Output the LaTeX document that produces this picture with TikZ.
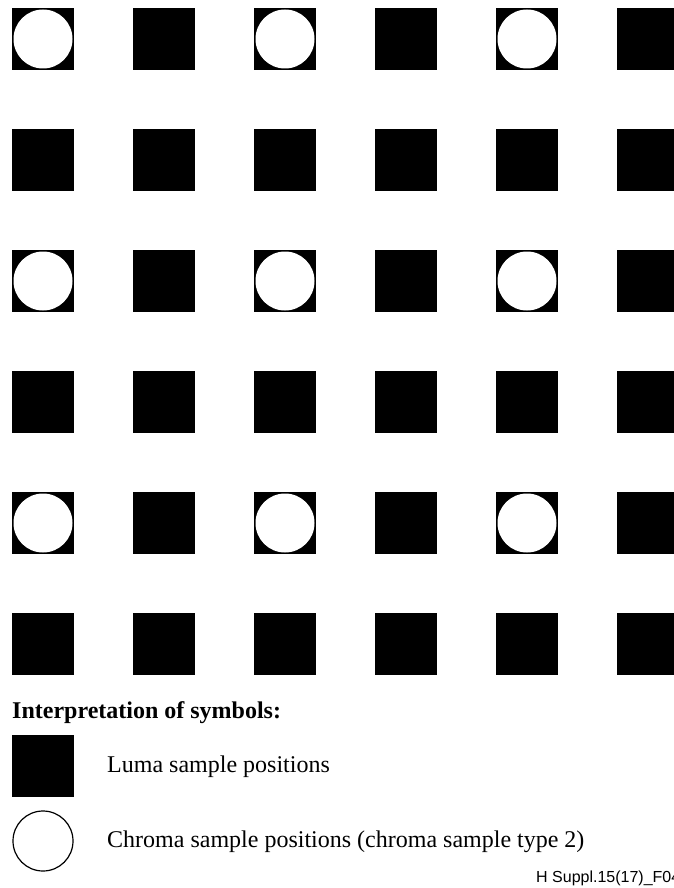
\documentclass[tikz,border=0pt]{standalone}
\usepackage{fontspec}
\setmainfont{Liberation Serif}
\newfontfamily\footfont{Liberation Sans}
\usetikzlibrary{positioning}

\begin{document}
\begin{tikzpicture}[x=1pt, y=-1pt,
    luma/.style={fill=black, minimum size=62pt, inner sep=0pt, outer sep=0pt},
    chroma/.style={circle, fill=white, minimum size=59pt, inner sep=0pt},
    keytext/.style={anchor=base west, inner sep=0pt, font=\fontsize{24}{28}\selectfont}]
    \useasboundingbox (0,0) rectangle (673,888);
    % luma grid
    \foreach \r in {0,...,5} {
        \foreach \c in {0,...,5} {\node[luma] (L\r\c) at (43+121*\c, 39+121*\r) {};}
    }
    % chroma sample type 2: on every second luma sample, every second row
    \foreach \r in {0,2,4} {
        \foreach \c in {0,2,4} {\node[chroma] (C\r\c) at (L\r\c) {};}
    }

    \node[keytext, font=\bfseries\fontsize{24}{28}\selectfont] (title) at (12,718) {Interpretation of symbols:};
    \node[luma] (keyL) at (43,766) {};
    \node[chroma, draw=black, line width=1.2pt, minimum size=60pt] (keyC) at (43,841) {};
    \node[keytext] (lumaText) at (107,772) {Luma sample positions};
    \node[keytext] (chromaText) at (107,847) {Chroma sample positions (chroma sample type 2)};
    \node[anchor=base west, inner sep=0pt, font=\footfont\fontsize{16}{19}\selectfont] (figId) at (536,882) {H Suppl.15(17)\_F04};
\end{tikzpicture}
\end{document}
